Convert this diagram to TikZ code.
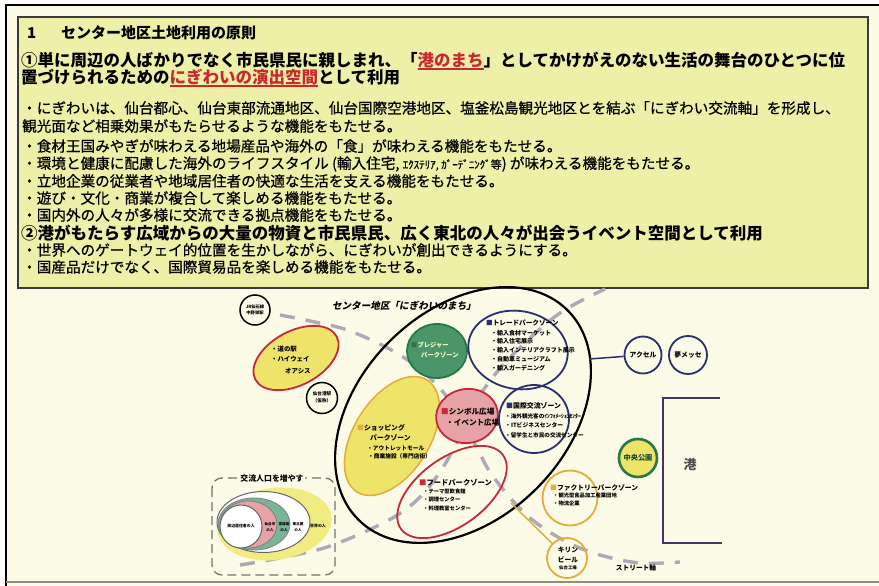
\documentclass[tikz,border=0pt]{standalone}
\usepackage{fontspec}
\setmainfont{Noto Sans CJK JP}
\newfontfamily\jp{Noto Sans CJK JP}
\newfontfamily\jpfb{Noto Sans CJK JP}[FakeBold=0.7]
\newfontfamily\jpsl{Noto Sans CJK JP}[FakeSlant=0.2]
\usetikzlibrary{shapes.geometric}
\definecolor{pagebg}{RGB}{251,251,231}
\definecolor{boxbg}{RGB}{238,240,168}
\definecolor{boxline}{RGB}{60,60,60}
\definecolor{hlred}{RGB}{200,40,46}
\definecolor{navy}{RGB}{42,47,110}
\definecolor{zred}{RGB}{200,40,60}
\definecolor{zyellow}{RGB}{238,228,106}
\definecolor{zorange}{RGB}{229,172,58}
\definecolor{zgreen}{RGB}{74,150,104}
\definecolor{zgreenline}{RGB}{40,120,70}
\definecolor{zpink}{RGB}{230,162,166}
\definecolor{axisgray}{RGB}{176,168,182}
\definecolor{portline}{RGB}{70,50,100}
\definecolor{vgreen}{RGB}{120,180,150}
\definecolor{vyellow}{RGB}{240,236,130}
\newcommand\myul[1]{\setbox0\hbox{#1}\rlap{\rule[-2.6pt]{\wd0}{1.3pt}}\box0}
\tikzset{
  bigline/.style={anchor=west, inner sep=0, font=\jp\bfseries\fontsize{16.5}{18}\selectfont},
  subline/.style={anchor=west, inner sep=0, font=\jpfb\fontsize{14.6}{16}\selectfont},
  ztext/.style={anchor=west, inner sep=0, font=\jp\bfseries\fontsize{6}{7}\selectfont},
  ctext/.style={inner sep=0, align=center, font=\jp\bfseries\fontsize{6.8}{8}\selectfont},
  zone/.style={ellipse, inner sep=0, line width=1.8pt},
  axis/.style={draw=axisgray, line width=3.4pt, dash pattern=on 15pt off 11pt},
}
\begin{document}
\begin{tikzpicture}[x=1pt,y=-1pt]
\useasboundingbox (0,0) rectangle (879,586);
\fill[pagebg] (0,0) rectangle (879,586);
\fill[white] (0,0) rectangle (879,4);
\fill[white] (0,0) rectangle (5,586);
\draw[line width=2.5pt] (6,586) -- (6,5) -- (879,5);
\draw[black!45, line width=1.5pt] (6,582) -- (879,582);

% text box
\node[draw=boxline, fill=boxbg, line width=1.6pt, minimum width=850pt, minimum height=271pt, anchor=north west, inner sep=0] (box) at (17,16) {};
\node[anchor=west, inner sep=0, font=\jp\bfseries\fontsize{15}{16}\selectfont] (t1) at (27,33) {1};
\node[anchor=west, inner sep=0, font=\jp\bfseries\fontsize{15}{16}\selectfont] (t2) at (61,33) {センター地区土地利用の原則};
\node[bigline] (l1) at (21,61) {①単に周辺の人ばかりでなく市民県民に親しまれ、「\textcolor{hlred}{\myul{港のまち}}」としてかけがえのない生活の舞台のひとつに位};
\node[bigline] (l2) at (21,78) {置づけられるための\textcolor{hlred}{\myul{にぎわいの演出空間}}として利用};
\node[subline] (s1) at (22,108) {・にぎわいは、仙台都心、仙台東部流通地区、仙台国際空港地区、塩釜松島観光地区とを結ぶ「にぎわい交流軸」を形成し、};
\node[subline] (s2) at (22,126) {観光面など相乗効果がもたらせるような機能をもたせる。};
\node[subline] (s3) at (22,146) {・食材王国みやぎが味わえる地場産品や海外の「食」が味わえる機能をもたせる。};
\node[subline] (s4) at (22,164) {・環境と健康に配慮した海外のライフスタイル (輸入住宅, {\fontsize{11}{12}\selectfont ｴｸｽﾃﾘｱ, ｶﾞｰﾃﾞﾆﾝｸﾞ等}) が味わえる機能をもたせる。};
\node[subline] (s5) at (22,181) {・立地企業の従業者や地域居住者の快適な生活を支える機能をもたせる。};
\node[subline] (s6) at (22,198) {・遊び・文化・商業が複合して楽しめる機能をもたせる。};
\node[subline] (s7) at (22,215) {・国内外の人々が多様に交流できる拠点機能をもたせる。};
\node[bigline] (l3) at (21,233) {②港がもたらす広域からの大量の物資と市民県民、広く東北の人々が出会うイベント空間として利用};
\node[subline] (s8) at (22,250) {・世界へのゲートウェイ的位置を生かしながら、にぎわいが創出できるようにする。};
\node[subline] (s9) at (22,267) {・国産品だけでなく、国際貿易品を楽しめる機能をもたせる。};

% axes (dashed)
\draw[axis] plot[smooth, tension=0.6] coordinates {(280,315) (310,321) (350,331) (400,355) (437,385) (462,420) (478,450) (490,472) (512,500) (535,522) (567,542) (600,555) (640,563) (680,562)};
\draw[axis] plot[smooth, tension=0.6] coordinates {(240,565) (290,556) (333,545) (387,521) (417,500) (440,472) (458,440) (474,405) (497,372) (530,338) (563,311) (605,289)};

% central district ellipse
\node[zone, draw=black, line width=2.2pt, minimum width=296pt, minimum height=208pt, rotate=45] (center) at (463,415) {};
\node[inner sep=0, font=\jpsl\bfseries\fontsize{9.6}{11}\selectfont] (clabel) at (404,306) {センター地区「にぎわいのまち」};

% small black circles
\node[circle, draw=black, line width=1.5pt, fill=pagebg, minimum size=30pt, inner sep=0] (jr) at (255,310) {};
\node[ctext, font=\jp\bfseries\fontsize{4.3}{5.5}\selectfont] (jrt) at (255,310) {JR仙石線\\中野栄駅};
\node[circle, draw=black, line width=1.5pt, fill=pagebg, minimum size=31pt, inner sep=0] (st) at (322,398) {};
\node[ctext, font=\jp\bfseries\fontsize{4.6}{6.5}\selectfont] (stt) at (322,397) {仙台港駅\\（仮称）};

% michi-no-eki
\node[zone, draw=zred, fill=zyellow, minimum width=92pt, minimum height=54pt, rotate=28] (michi) at (296,358) {};
\node[ztext, font=\jp\bfseries\fontsize{6.4}{7}\selectfont] (m1) at (271,349) {・道の駅};
\node[ztext, font=\jp\bfseries\fontsize{6.4}{7}\selectfont] (m2) at (271,359) {・ハイウェイ};
\node[ztext, font=\jp\bfseries\fontsize{6.4}{7}\selectfont] (m3) at (285,371) {オアシス};

% pleasure park
\node[zone, draw=zgreenline, fill=zgreen, minimum width=60pt, minimum height=54pt] (pleasure) at (437,351) {};
\node[ztext, text=white!80!yellow, font=\jp\bfseries\fontsize{6.3}{7}\selectfont] (p1) at (411,345) {\textcolor{zgreenline}{■}プレジャー};
\node[ztext, text=white!80!yellow, font=\jp\bfseries\fontsize{6.3}{7}\selectfont] (p2) at (421,355) {パークゾーン};

% trade park
\node[zone, draw=navy, minimum width=100pt, minimum height=78pt, rotate=-10] (trade) at (518,350) {};
\node[ztext, font=\jp\bfseries\fontsize{6.6}{7}\selectfont] (tr0) at (486,323) {\textcolor{navy}{■}トレードパークゾーン};
\node[ztext] (tr1) at (491,333) {・輸入食材マーケット};
\node[ztext] (tr2) at (491,341) {・輸入住宅展示};
\node[ztext] (tr3) at (491,350) {・輸入インテリアクラフト展示};
\node[ztext] (tr4) at (491,359) {・自動車ミュージアム};
\node[ztext] (tr5) at (491,368) {・輸入ガーデニング};

% shopping park
\node[zone, draw=zorange, line width=1.5pt, fill=zyellow, minimum width=132pt, minimum height=76pt, rotate=58] (shop) at (392,436) {};
\node[ztext, font=\jp\bfseries\fontsize{6.8}{7}\selectfont] (sh1) at (357,428) {\textcolor{zorange}{■}ショッピング};
\node[ztext, font=\jp\bfseries\fontsize{6.8}{7}\selectfont] (sh2) at (370,438) {パークゾーン};
\node[ztext, font=\jp\bfseries\fontsize{5.7}{7}\selectfont] (sh3) at (367,448) {・アウトレットモール};
\node[ztext, font=\jp\bfseries\fontsize{5.7}{7}\selectfont] (sh4) at (368,456) {・商業施設（専門店街）};

% symbol plaza
\node[zone, draw=zred, fill=zpink, minimum width=62pt, minimum height=54pt, rotate=10] (symbol) at (467,416) {};
\node[ztext, font=\jp\bfseries\fontsize{7.6}{8}\selectfont] (sy1) at (441,412) {\textcolor{zred}{■}シンボル広場};
\node[ztext, font=\jp\bfseries\fontsize{7.6}{8}\selectfont] (sy2) at (446,423) {・イベント広場};

% international exchange
\node[zone, draw=navy, minimum width=70pt, minimum height=68pt] (intl) at (534,419) {};
\node[ztext, font=\jp\bfseries\fontsize{6.9}{7}\selectfont] (in1) at (506,406) {\textcolor{navy}{■}国際交流ゾーン};
\node[ztext, font=\jp\bfseries\fontsize{5.6}{7}\selectfont] (in2) at (505,416) {・海外観光客のｲﾝﾌｫﾒｰｼｮﾝｾﾝﾀｰ};
\node[ztext, font=\jp\bfseries\fontsize{5.8}{7}\selectfont] (in3) at (505,425) {・ITビジネスセンター};
\node[ztext, font=\jp\bfseries\fontsize{5.6}{7}\selectfont] (in4) at (505,435) {・留学生と市民の交流センター};

% food park
\node[zone, draw=zred, minimum width=126pt, minimum height=68pt, rotate=36] (food) at (452,492) {};
\node[ztext, font=\jp\bfseries\fontsize{7.3}{8}\selectfont] (f1) at (419,483) {\textcolor{zred}{■}フードパークゾーン};
\node[ztext, font=\jp\bfseries\fontsize{5.3}{6}\selectfont] (f2) at (423,491) {・テーマ型飲食館};
\node[ztext, font=\jp\bfseries\fontsize{5.3}{6}\selectfont] (f3) at (423,500) {・調理センター};
\node[ztext, font=\jp\bfseries\fontsize{5.3}{6}\selectfont] (f4) at (423,508) {・料理教室センター};

% factory park
\node[circle, draw=zorange, line width=1.8pt, minimum size=55pt, inner sep=0] (factory) at (570,498) {};
\node[ztext, font=\jp\bfseries\fontsize{6.8}{7}\selectfont] (fa1) at (550,488) {\textcolor{zorange}{■}ファクトリーパークゾーン};
\node[ztext, font=\jp\bfseries\fontsize{5.3}{6}\selectfont] (fa2) at (553,495) {・観光型食品加工産業団地};
\node[ztext, font=\jp\bfseries\fontsize{5.3}{6}\selectfont] (fa3) at (553,503) {・物流企業};

% kirin
\node[circle, draw=zorange, line width=1.8pt, minimum size=40pt, inner sep=0] (kirin) at (567,558) {};
\node[ctext, font=\jp\bfseries\fontsize{6.7}{10.5}\selectfont] (ki1) at (568,555) {キリン\\ビール};
\node[ctext, font=\jp\bfseries\fontsize{4.4}{5}\selectfont] (ki2) at (568,568) {仙台工場};
\coordinate (kstart) at (511,503);
\draw[zorange, line width=1.5pt] (kstart) -- (kirin);
\node[inner sep=0, font=\jp\bfseries\fontsize{6.7}{8}\selectfont] (street) at (636,568) {ストリート軸};

% access / yume messe
\node[circle, draw=navy, line width=1.8pt, minimum size=37pt, inner sep=0] (axel) at (643,355) {};
\node[ctext] (axt) at (643,355) {アクセル};
\node[circle, draw=navy, line width=1.8pt, minimum size=38pt, inner sep=0] (yume) at (688,355) {};
\node[ctext] (yut) at (688,355) {夢メッセ};
\coordinate (cright) at (589,359);
\draw[navy, line width=1.5pt] (cright) -- (axel);

% central park
\node[circle, draw=zgreenline, line width=2.6pt, fill=zyellow, minimum size=38pt, inner sep=0] (park) at (638,458) {};
\node[ctext, text=zgreenline!60!black, font=\jp\bfseries\fontsize{7.2}{8}\selectfont] (parkt) at (638,458) {中央公園};

% port bracket
\coordinate (p1) at (720,398);
\coordinate (p2) at (663,398);
\coordinate (p3) at (663,543);
\coordinate (p4) at (722,543);
\draw[portline, line width=1.6pt] (p1) -- (p2) -- (p3) -- (p4);
\node[inner sep=0, text=black!70, font=\jp\bfseries\fontsize{13}{14}\selectfont] (port) at (690,465) {港};

% exchange population box
\draw[black!55, line width=1.3pt, dash pattern=on 9pt off 5pt, rounded corners=10pt] (212,478) rectangle (335,575);
\node[fill=pagebg, inner sep=1.5pt, font=\jp\bfseries\fontsize{7.9}{9}\selectfont] (xlabel) at (272,478) {交流人口を増やす};
\node[ellipse, fill=vyellow, minimum width=115pt, minimum height=72pt, inner sep=0, rotate=8] (v5) at (274.5,524) {};
\node[ellipse, draw=black!60, line width=1pt, fill=white, minimum width=93pt, minimum height=61pt, inner sep=0] (v4) at (263.5,522) {};
\node[ellipse, draw=black!50, line width=0.8pt, fill=vgreen, minimum width=72pt, minimum height=52pt, inner sep=0] (v3) at (254,524) {};
\node[ellipse, draw=black!50, line width=0.8pt, fill=zpink, minimum width=57pt, minimum height=47pt, inner sep=0] (v2) at (248.5,524.5) {};
\node[ellipse, draw=black!60, line width=1pt, fill=white, minimum width=42pt, minimum height=43pt, inner sep=0] (v1) at (241,526.5) {};
\node[ctext, font=\jp\bfseries\fontsize{3.9}{4.5}\selectfont] (vt1) at (241,526) {周辺居住者の人};
\node[ctext, font=\jp\bfseries\fontsize{3.6}{6}\selectfont] (vt2) at (270,527) {仙台市\\の人};
\node[ctext, font=\jp\bfseries\fontsize{3.6}{6}\selectfont] (vt3) at (284,527) {宮城県\\の人};
\node[ctext, font=\jp\bfseries\fontsize{3.6}{6}\selectfont] (vt4) at (298,527) {東北圏\\の人};
\node[ctext, font=\jp\bfseries\fontsize{3.9}{6}\selectfont] (vt5) at (318,526) {世界の人};
\end{tikzpicture}
\end{document}
